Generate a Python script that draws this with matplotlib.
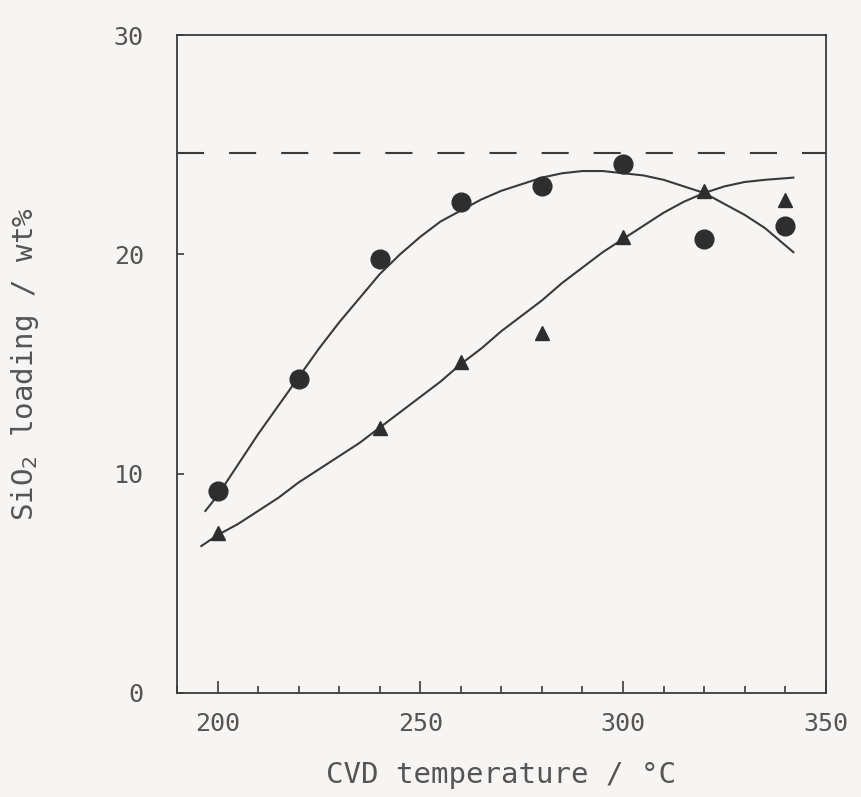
import numpy as np
import matplotlib.pyplot as plt
from matplotlib.ticker import MultipleLocator

# measured points
temp = [200, 220, 240, 260, 280, 300, 320, 340]
circ = [9.2, 14.3, 19.8, 22.4, 23.1, 24.1, 20.7, 21.3]
temp_tri = [200, 240, 260, 280, 300, 320, 340]
tri = [7.3, 12.1, 15.1, 16.4, 20.8, 22.9, 22.5]

# fitted curves, every 5 degC
curve_t1 = [197, 200, 205, 210, 215, 220, 225, 230, 235, 240, 245, 250, 255, 260, 265,
            270, 275, 280, 285, 290, 295, 300, 305, 310, 315, 320, 325, 330, 335, 342]
curve_y1 = [8.3, 9.0, 10.4, 11.8, 13.1, 14.4, 15.7, 16.9, 18.0, 19.1, 20.0, 20.8, 21.5, 22.0, 22.5,
            22.9, 23.2, 23.5, 23.7, 23.8, 23.8, 23.7, 23.6, 23.4, 23.1, 22.8, 22.3, 21.8, 21.2, 20.1]
curve_t2 = [196, 200, 205, 210, 215, 220, 225, 230, 235, 240, 245, 250, 255, 260, 265,
            270, 275, 280, 285, 290, 295, 300, 305, 310, 315, 320, 325, 330, 335, 342]
curve_y2 = [6.7, 7.2, 7.7, 8.3, 8.9, 9.6, 10.2, 10.8, 11.4, 12.1, 12.8, 13.5, 14.2, 15.0, 15.7,
            16.5, 17.2, 17.9, 18.7, 19.4, 20.1, 20.7, 21.3, 21.9, 22.4, 22.8, 23.1, 23.3, 23.4, 23.5]

limit = 24.6   # dashed line

bg = '#f7f5f3'
ink = '#3a3a3a'
txt = '#555555'
plt.rcParams['font.family'] = ['DejaVu Sans Mono', 'DejaVu Sans']

fig = plt.figure(figsize=(8.62, 7.97), dpi=100, facecolor=bg)
ax = fig.add_axes([0.2053, 0.1305, 0.7527, 0.8255], facecolor=bg)

ax.plot(curve_t1, curve_y1, color=ink, lw=1.5)
ax.plot(curve_t2, curve_y2, color=ink, lw=1.5)
ax.axhline(limit, color=ink, lw=1.5, ls=(0, (13, 12)))
ax.plot(temp, circ, 'o', color='#2e2e2e', ms=13.5, ls='none')
ax.plot(temp_tri, tri, '^', color='#2e2e2e', ms=10, ls='none')

ax.set_xlim(190, 350)
ax.set_ylim(0, 30)
ax.xaxis.set_major_locator(MultipleLocator(50))
ax.xaxis.set_minor_locator(MultipleLocator(10))
ax.yaxis.set_major_locator(MultipleLocator(10))
ax.tick_params(axis='x', which='major', direction='in', length=9, width=1.2, color=ink,
               labelsize=18, labelcolor=txt, pad=14, top=False)
ax.tick_params(axis='x', which='minor', direction='in', length=5, width=1.2, color=ink, top=False)
ax.tick_params(axis='y', direction='in', length=5, width=1.2, color=ink,
               labelsize=18, labelcolor=txt, pad=24, right=False)
for s in ax.spines.values():
    s.set_color(ink)
    s.set_linewidth(1.3)

ax.set_xlabel('CVD temperature / °C', fontsize=21, color=txt, labelpad=18)
ax.set_ylabel('SiO$_2$ loading / wt%', fontsize=21, color=txt, labelpad=52)

plt.savefig('out.png', dpi=100, facecolor=bg)
